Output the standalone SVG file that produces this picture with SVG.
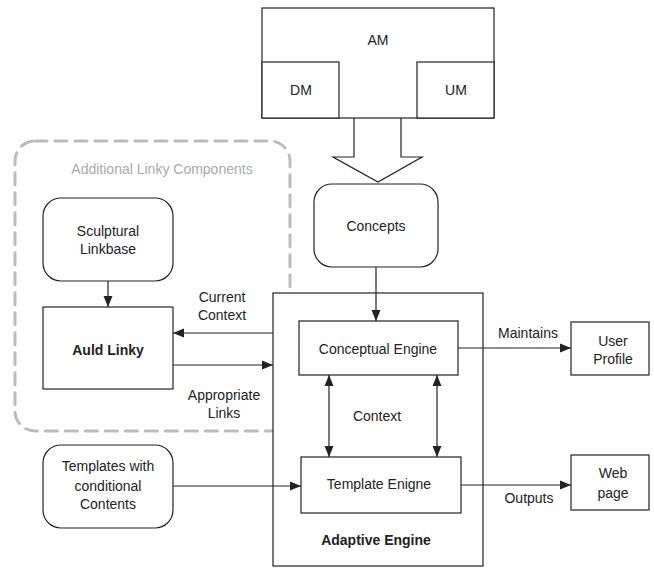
<svg xmlns="http://www.w3.org/2000/svg" width="654" height="568" viewBox="0 0 654 568">
<style>
  .box { fill: #fff; stroke: #222; stroke-width: 1.2; }
  .t { font-family: "Liberation Sans", Arial, sans-serif; font-size: 14px; fill: #222; text-anchor: middle; }
  .b { font-weight: bold; }
  .g { fill: #aaa; }
  .ln { stroke: #222; stroke-width: 1.2; fill: none; }
</style>
<defs>
  <marker id="ah" markerUnits="userSpaceOnUse" markerWidth="12" markerHeight="10" refX="11" refY="5" orient="auto-start-reverse">
    <path d="M0,0.5 L11,5 L0,9.5 z" fill="#222"/>
  </marker>
</defs>
<rect width="654" height="568" fill="#fff"/>

<g id="group-linky">
  <rect x="15" y="141" width="275" height="290" rx="20" fill="none" stroke="#bbb" stroke-width="3" stroke-dasharray="12 8" stroke-linecap="round"/>
  <text class="t g" x="162" y="174">Additional Linky Components</text>
</g>

<g id="am">
  <rect class="box" x="262" y="8" width="232" height="110"/>
  <text class="t" x="378" y="45">AM</text>
</g>
<g id="dm">
  <rect class="box" x="262" y="62" width="77" height="56"/>
  <text class="t" x="301" y="95">DM</text>
</g>
<g id="um">
  <rect class="box" x="417" y="62" width="77" height="56"/>
  <text class="t" x="456" y="95">UM</text>
</g>

<g id="big-arrow">
  <path d="M354,118 L354,157 L333,157 L378,182 L422,157 L401,157 L401,118" fill="none" stroke="#222" stroke-width="1.2"/>
</g>

<g id="concepts">
  <rect class="box" x="314" y="184" width="124" height="83" rx="18"/>
  <text class="t" x="376" y="231">Concepts</text>
</g>

<g id="sculptural">
  <rect class="box" x="43" y="198" width="130" height="83" rx="18"/>
  <text class="t" x="108" y="236">Sculptural</text>
  <text class="t" x="108" y="254">Linkbase</text>
</g>

<g id="auld-linky">
  <rect class="box" x="43" y="307" width="130" height="82"/>
  <text class="t b" x="108" y="355">Auld Linky</text>
</g>

<g id="adaptive-engine">
  <rect class="box" x="273" y="293" width="210" height="273"/>
  <text class="t b" x="376" y="545">Adaptive Engine</text>
</g>

<g id="conceptual-engine">
  <rect class="box" x="299" y="321" width="159" height="54"/>
  <text class="t" x="378" y="354">Conceptual Engine</text>
</g>

<g id="template-engine">
  <rect class="box" x="301" y="457" width="160" height="56"/>
  <text class="t" x="379" y="489">Template Enigne</text>
</g>

<g id="templates">
  <rect class="box" x="43" y="445" width="130" height="83" rx="18"/>
  <text class="t" x="108" y="471">Templates with</text>
  <text class="t" x="108" y="491">conditional</text>
  <text class="t" x="108" y="509">Contents</text>
</g>

<g id="user-profile">
  <rect class="box" x="571" y="322" width="78" height="53"/>
  <text class="t" x="613" y="346">User</text>
  <text class="t" x="613" y="364">Profile</text>
</g>

<g id="web-page">
  <rect class="box" x="571" y="455" width="78" height="55"/>
  <text class="t" x="613" y="478">Web</text>
  <text class="t" x="613" y="498">page</text>
</g>

<g id="connectors">
  <line class="ln" x1="376" y1="267" x2="376" y2="321" marker-end="url(#ah)"/>
  <line class="ln" x1="108" y1="281" x2="108" y2="307" marker-end="url(#ah)"/>
  <line class="ln" x1="273" y1="333" x2="173" y2="333" marker-end="url(#ah)"/>
  <line class="ln" x1="173" y1="365" x2="273" y2="365" marker-end="url(#ah)"/>
  <line class="ln" x1="329" y1="375" x2="329" y2="457" marker-start="url(#ah)" marker-end="url(#ah)"/>
  <line class="ln" x1="437" y1="375" x2="437" y2="457" marker-start="url(#ah)" marker-end="url(#ah)"/>
  <line class="ln" x1="173" y1="486" x2="301" y2="486" marker-end="url(#ah)"/>
  <line class="ln" x1="458" y1="348" x2="571" y2="348" marker-end="url(#ah)"/>
  <line class="ln" x1="461" y1="485" x2="571" y2="485" marker-end="url(#ah)"/>
  <text class="t" x="222" y="302">Current</text>
  <text class="t" x="222" y="320">Context</text>
  <text class="t" x="224" y="400">Appropriate</text>
  <text class="t" x="224" y="418">Links</text>
  <text class="t" x="377" y="421">Context</text>
  <text class="t" x="528" y="338">Maintains</text>
  <text class="t" x="529" y="503">Outputs</text>
</g>
</svg>
